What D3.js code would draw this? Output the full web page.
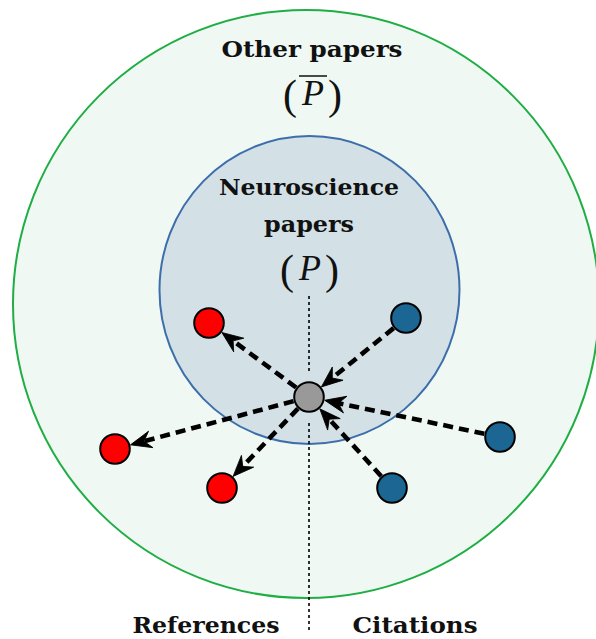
<!DOCTYPE html>
<html>
<head>
<meta charset="utf-8">
<script src="https://cdn.jsdelivr.net/npm/d3@7"></script>
<style>
  html, body { margin: 0; padding: 0; background: #ffffff; }
  svg { display: block; }
</style>
</head>
<body>
<div id="chart"></div>
<script>
// ---- Data (diagram units; hub paper at origin, y up) ----
const regionNames = ["Other papers", "Neuroscience papers"];
const regionCenters = [[-0.3, 9.3], [0.05, 10.7]];
const regionRadii = [[29.3, 29.4], [15.0, 15.4]];
const hubNode = [0, 0];
const referenceNodes = [[-10.0, 7.4], [-19.4, -5.2], [-8.7, -9.1]];
const citationNodes = [[9.7, 7.9], [19.1, -4.0], [8.3, -9.1]];
const sideLabels = ["References", "Citations"];
const sideLabelX = [-10.3, 10.6];
const dividerSegments = [[10.1, 2.4], [-2.6, -23.6]];

const W = 596, H = 639;
const x = d3.scaleLinear().domain([-30.9, 28.7]).range([0, W]);
const y = d3.scaleLinear().domain([-24.2, 39.7]).range([H, 0]);
const kx = x(1) - x(0), ky = y(0) - y(1);

const svg = d3.select("#chart").append("svg").attr("width", W).attr("height", H);

const regionStyle = [
  { fill: "#eff8f2", stroke: "#1fae44" },
  { fill: "#d3e1e6", stroke: "#3d6eab" }
];
svg.selectAll("ellipse.region").data(regionCenters).join("ellipse")
  .attr("class", "region")
  .attr("cx", d => x(d[0])).attr("cy", d => y(d[1]))
  .attr("rx", (d, i) => regionRadii[i][0] * kx).attr("ry", (d, i) => regionRadii[i][1] * ky)
  .attr("fill", (d, i) => regionStyle[i].fill)
  .attr("stroke", (d, i) => regionStyle[i].stroke).attr("stroke-width", 2);

// divider
svg.selectAll("line.divider").data(dividerSegments).join("line")
  .attr("class", "divider")
  .attr("x1", x(0)).attr("x2", x(0))
  .attr("y1", d => y(d[0])).attr("y2", d => y(d[1]))
  .attr("stroke", "#000").attr("stroke-width", 1.6).attr("stroke-dasharray", "3,3");

const nodeR = 14.8;
const tipGap = nodeR + 1.2;
const headLen = 21, headBack = 14, headHalf = 8.5;
function edge(src, dst) {
  const sx = x(src[0]), sy = y(src[1]), tx = x(dst[0]), ty = y(dst[1]);
  const dx = tx - sx, dy = ty - sy, L = Math.hypot(dx, dy);
  const ux = dx / L, uy = dy / L;
  const tipX = tx - ux * tipGap, tipY = ty - uy * tipGap;
  return { x1: sx + ux * tipGap, y1: sy + uy * tipGap,
           x2: tipX - ux * (headBack - 1), y2: tipY - uy * (headBack - 1),
           tipX, tipY, ang: Math.atan2(uy, ux) * 180 / Math.PI };
}
const links = referenceNodes.map(n => edge(hubNode, n)).concat(citationNodes.map(n => edge(n, hubNode)));
svg.selectAll("line.link").data(links).join("line")
  .attr("class", "link")
  .attr("x1", d => d.x1).attr("y1", d => d.y1).attr("x2", d => d.x2).attr("y2", d => d.y2)
  .attr("stroke", "#000").attr("stroke-width", 4.6).attr("stroke-dasharray", "10,6");
svg.selectAll("path.head").data(links).join("path")
  .attr("class", "head")
  .attr("transform", d => `translate(${d.tipX},${d.tipY}) rotate(${d.ang})`)
  .attr("d", `M0,0 L${-headLen},${-headHalf} L${-headBack},0 L${-headLen},${headHalf} Z`)
  .attr("fill", "#000").attr("stroke", "#000").attr("stroke-width", 0.8).attr("stroke-linejoin", "miter");

const nodes = [{ p: hubNode, c: "#999999" }]
  .concat(referenceNodes.map(p => ({ p, c: "#ff0000" })))
  .concat(citationNodes.map(p => ({ p, c: "#1c6694" })));
svg.selectAll("circle.node").data(nodes).join("circle")
  .attr("class", "node")
  .attr("cx", d => x(d.p[0])).attr("cy", d => y(d.p[1])).attr("r", nodeR)
  .attr("fill", d => d.c).attr("stroke", "#000").attr("stroke-width", 2);

// labels
const boldFont = "'DejaVu Serif', serif";
function label(txt, cx, by, size, len) {
  svg.append("text").attr("x", cx).attr("y", by).attr("text-anchor", "middle")
    .attr("font-family", boldFont).attr("font-weight", "bold").attr("font-size", size)
    .attr("fill", "#111").attr("textLength", len).attr("lengthAdjust", "spacingAndGlyphs")
    .text(txt);
}
label(regionNames[0], x(0.3), 57, 22, 181);
const nsWords = regionNames[1].split(" ");
label(nsWords[0], x(0), 195, 22, 180);
label(nsWords[1], x(0), 232, 22, 90);
label(sideLabels[0], x(sideLabelX[0]), 633, 22, 147);
label(sideLabels[1], x(sideLabelX[1]), 633, 22, 125);

// set symbols (P) and (P-bar)
function setSymbol(cx, by, bar) {
  const g = svg.append("g");
  [[-22, "("], [23, ")"]].forEach(([dx, ch]) => {
    g.append("text").attr("x", cx + dx).attr("y", by).attr("text-anchor", "middle")
      .attr("font-family", "'Liberation Serif', serif").attr("font-size", 42).attr("fill", "#111").text(ch);
  });
  g.append("text").attr("x", cx + 1).attr("y", by - 4).attr("text-anchor", "middle")
    .attr("font-family", "'Liberation Serif', serif").attr("font-style", "italic").attr("font-size", 36)
    .attr("fill", "#111").text("P");
  if (bar) {
    g.append("line").attr("x1", cx - 13).attr("x2", cx + 15).attr("y1", by - 33).attr("y2", by - 33)
      .attr("stroke", "#111").attr("stroke-width", 1.5);
  }
}
setSymbol(x(0.3), 109, true);
setSymbol(x(0), 284, false);
</script>
</body>
</html>
